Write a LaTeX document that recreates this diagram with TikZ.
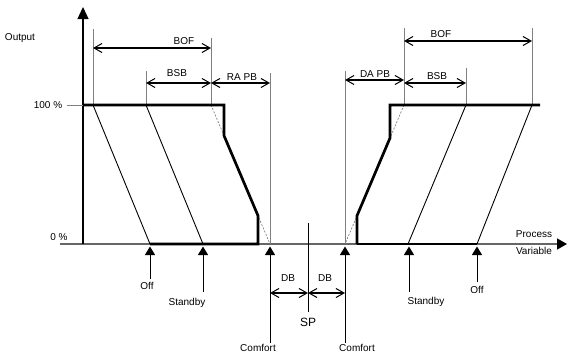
\documentclass[tikz,border=0pt]{standalone}
\usepackage{fontspec}
\setmainfont{Liberation Sans}
\usetikzlibrary{arrows.meta}
\begin{document}
\begin{tikzpicture}[x=1pt,y=-1pt,
  lbl/.style={font=\fontsize{10}{12}\selectfont, inner sep=0pt},
  guide/.style={draw=black!50, line width=1pt},
  curve/.style={line width=2.7pt, line join=miter},
  slope/.style={line width=0.9pt},
  theory/.style={draw=black!55, line width=0.6pt, dash pattern=on 2pt off 1.5pt},
  dim/.style={line width=2.2pt,
    {Straight Barb[length=8pt,width=9pt,line width=1pt]}-{Straight Barb[length=8pt,width=9pt,line width=1pt]}},
  marker/.style={line width=1pt, -{Triangle[length=8.5pt,width=10pt]}},
]
\useasboundingbox (0,0) rectangle (567,359);

% axes
\coordinate (xs) at (60,244);
\coordinate (xe) at (567,244);
\coordinate (ys) at (83,244);
\coordinate (ye) at (83,7);
\draw[draw=black!60, line width=1.6pt, -{Triangle[length=10pt,width=11pt,color=black]}] (xs) -- (xe);
\draw[line width=1.2pt, -{Triangle[length=12pt,width=11pt]}] (ys) -- (ye);
\coordinate (t100a) at (67,105);
\coordinate (t100b) at (83,105);
\draw[guide] (t100a) -- (t100b);

% axis labels
\node[lbl] (output) at (20,38) {Output};
\node[lbl] (p100) at (48,105) {100 \%};
\node[lbl] (p0) at (59,237) {0 \%};
\node[lbl] (proc) at (534,234) {Process};
\node[lbl] (var) at (534,251) {Variable};

% guide lines
\foreach \n/\x/\ya/\yb in {gA/93/29/105, gB/146/71/105, gC/211/38/105, gD/270/73/244,
                           gE/345/71/244, gF/404/28/105, gG/466/68/105, gH/532/28/105}{
  \coordinate (\n t) at (\x,\ya);
  \coordinate (\n b) at (\x,\yb);
  \draw[guide] (\n t) -- (\n b);
}

% theoretical slopes (dashed)
\draw[theory] (gCb) -- (270,244);
\draw[theory] (gFb) -- (345,244);

% Off / Standby slopes
\draw[slope] (gAb) -- (150,244);
\draw[slope] (gBb) -- (203,244);
\draw[slope] (gGb) -- (408,244);
\draw[slope] (gHb) -- (477,244);

% reverse acting output (thick)
\draw[curve] (150,244) -- (258,244) -- (258,215.7) -- (224,135.6) -- (224,105) -- (83,105);
% direct acting output (thick)
\draw[curve] (357,244) -- (357,215.7) -- (390,138) -- (390,105) -- (540,105);
\draw[curve] (357,244) -- (477,244);

% dimension arrows
\draw[dim] (93,48) -- (211,48);
\node[lbl] (bofL) at (184,41) {BOF};
\draw[dim] (146,83) -- (211,83);
\node[lbl] (bsbL) at (177,73) {BSB};
\draw[dim] (211,83) -- (270,83);
\node[lbl] (rapb) at (242,77) {RA PB};
\draw[dim] (345,80) -- (404,80);
\node[lbl] (dapb) at (375,74) {DA PB};
\draw[dim] (404,83) -- (466,83);
\node[lbl] (bsbR) at (437,76) {BSB};
\draw[dim] (404,41) -- (532,41);
\node[lbl] (bofR) at (441,34) {BOF};

% dead band and set point
\coordinate (spt) at (308,223);
\coordinate (spb) at (308,312);
\draw[line width=0.9pt] (spt) -- (spb);
\draw[dim] (270,293) -- (308,293);
\draw[dim] (308,293) -- (345,293);
\node[lbl] (dbL) at (288,278) {DB};
\node[lbl] (dbR) at (325,278) {DB};
\node[lbl, font=\fontsize{12}{14}\selectfont] (sp) at (308,322) {SP};

% operating point markers
\foreach \n/\x/\yb/\lx/\ly/\t in {offL/150/279/147/286/Off, stbL/203/292/187/303/Standby,
    cmfL/270/343/258/348/Comfort, cmfR/345/343/357/348/Comfort,
    stbR/409/292/426/302/Standby, offR/477/282/477/290/Off}{
  \coordinate (\n b) at (\x,\yb);
  \coordinate (\n t) at (\x,246.5);
  \draw[marker] (\n b) -- (\n t);
  \node[lbl] (\n) at (\lx,\ly) {\t};
}
\end{tikzpicture}
\end{document}
